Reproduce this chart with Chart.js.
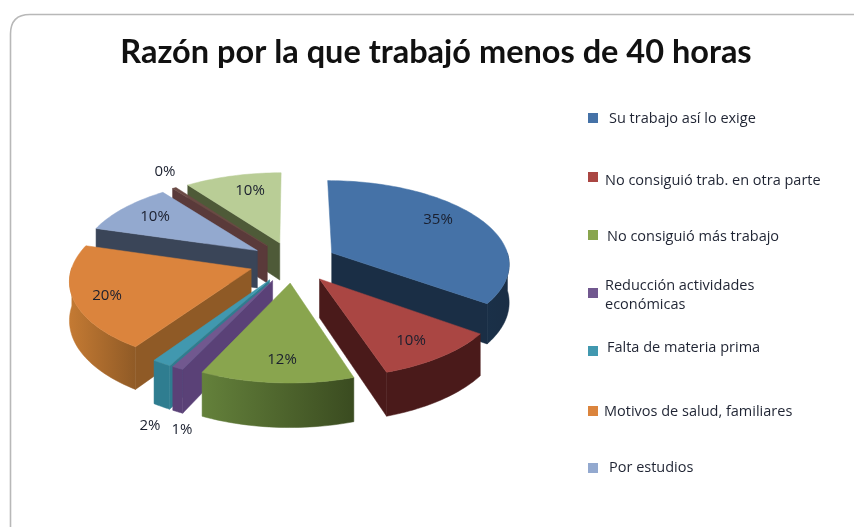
<!DOCTYPE html>
<html><head><meta charset="utf-8">
<style>html,body{margin:0;padding:0;background:#fff}canvas{display:block;filter:blur(0.4px)}</style>
<script src="https://cdn.jsdelivr.net/npm/chart.js@4"></script>
</head><body><canvas id="c" width="854" height="527"></canvas>
<script>
const chartTitle = 'Razón por la que trabajó menos de 40 horas';
// Only the first seven categories are named in the legend of the reference.
const categories = ['Su trabajo así lo exige','No consiguió trab. en otra parte','No consiguió más trabajo','Reducción actividades\neconómicas','Falta de materia prima','Motivos de salud, familiares','Por estudios','',''];
const shares = [35,10,12,0.9,1.5,20.2,10,0.4,10];

const topColors  = ['#4572a7','#aa4643','#89a54e','#71588f','#4198af','#db843d','#93a9cf','#6b4a45','#b9cd96'];
const wallLeft   = ['#1a3048','#4a1a1a','#64813b','#5a4177','#2f7d90','#c47a33','#3a4558','#5a3a3a','#4e5a38'];
const wallRight  = ['#1a2e45','#4a1a1a','#3a4b20','#5a4177','#2f7d90','#8f5a26','#3a4558','#5a3a3a','#4e5a38'];

const PIE = {cx:293, cy:262, k:0.465, p:0.118, depth:38, offset:44};
const LABEL_AT = [[438,220],[411,341],[282,360],[182,430],[150,426],[107,296],[155,217],[165,172],[250,191]];
const LEGEND = {x:588, size:10,
  swatchY:[118,177,235,293,351,411,468],
  textX:[609,605,607,605,607,604,609],
  textY:[119,181,237,[286,305],348,412,468]};

const pie3d = {
  id:'pie3d',
  beforeDraw(chart){
    const c = chart.ctx; c.save();
    c.strokeStyle='#b8b8b8'; c.lineWidth=1.6;
    c.beginPath(); c.moveTo(10.5,527); c.lineTo(10.5,34); c.quadraticCurveTo(10.5,14.5,30,14.5); c.lineTo(854,14.5); c.stroke();
    c.restore();
  },
  beforeDatasetDraw(chart,args){
    const c = chart.ctx, meta = args.meta, arcs = meta.data, R = arcs[0].outerRadius;
    const proj = (X,Y)=>{const w=1-PIE.p*Y/R; return [PIE.cx+X/w, PIE.cy+PIE.k*Y/w, w];};
    const order = arcs.map((a,i)=>i).sort((i,j)=>Math.sin((arcs[i].startAngle+arcs[i].endAngle)/2)-Math.sin((arcs[j].startAngle+arcs[j].endAngle)/2));
    order.forEach(i=>{
      const arc = arcs[i], a0=arc.startAngle, a1=arc.endAngle, mid=(a0+a1)/2;
      const off = arc.options.offset, ox=Math.cos(mid)*off, oy=Math.sin(mid)*off;
      const P = (a,r)=>proj(ox+Math.cos(a)*r, oy+Math.sin(a)*r);
      const apex = proj(ox,oy);
      const poly=(pts,fill)=>{c.beginPath();pts.forEach((p,n)=>n?c.lineTo(p[0],p[1]):c.moveTo(p[0],p[1]));c.closePath();c.fillStyle=fill;c.fill();c.strokeStyle=fill;c.lineWidth=.5;c.stroke();};
      const down = p=>[p[0],p[1]+PIE.depth/p[2],p[2]];
      const radial=a=>{const e=P(a,R);poly([apex,e,down(e),down(apex)],wallRight[i]);};
      if(-Math.cos(a0)>0) radial(a0);
      if(Math.cos(a1)>0) radial(a1);
      const N=Math.max(8,Math.ceil((a1-a0)*40));
      const outer=[];
      for(let n=0;n<=N;n++){outer.push(P(a0+(a1-a0)*n/N,R));}
      const front=outer.filter((p,n)=>Math.sin(a0+(a1-a0)*n/N)>=-0.02);
      if(front.length>1){
        const xs=front.map(p=>p[0]);
        const l=Math.min(...xs), r=Math.max(...xs);
        const g=c.createLinearGradient(l,0,r+1,0);
        g.addColorStop(0,wallLeft[i]); g.addColorStop(1,wallRight[i]);
        poly(front.concat(front.slice().reverse().map(down)),g);
      }
      poly([apex].concat(outer),topColors[i]);
    });
    return false;
  },
  afterDraw(chart){
    const c = chart.ctx, values = chart.data.datasets[0].data, colors = topColors;
    c.save(); c.textBaseline='middle'; c.fillStyle='#1a1f2e';
    c.font='15px "Open Sans"'; c.textAlign='center';
    values.forEach((v,i)=>c.fillText(Math.round(v)+'%',LABEL_AT[i][0],LABEL_AT[i][1]));
    c.textAlign='left'; c.font='14.5px "Open Sans"';
    LEGEND.swatchY.forEach((y,i)=>{
      c.fillStyle=colors[i]; c.fillRect(LEGEND.x,y-5,LEGEND.size,LEGEND.size);
      c.fillStyle='#1f2433';
      const lines=chart.data.labels[i].split('\n'), ty=[].concat(LEGEND.textY[i]);
      lines.forEach((t,n)=>c.fillText(t,LEGEND.textX[i],ty[n]));
    });
    c.restore();
  }
};

new Chart(document.getElementById('c'),{
  type:'pie',
  data:{labels:categories,datasets:[{data:shares,backgroundColor:topColors,radius:178,offset:PIE.offset}]},
  plugins:[pie3d],
  options:{responsive:false,animation:false,
    layout:{padding:{left:18}},
    plugins:{legend:{display:false},tooltip:{enabled:false},
      title:{display:true,text:chartTitle,color:'#111',padding:{top:33,bottom:10},font:{family:'Lato',size:32.5,weight:'bold'}}}}
});
</script></body></html>
